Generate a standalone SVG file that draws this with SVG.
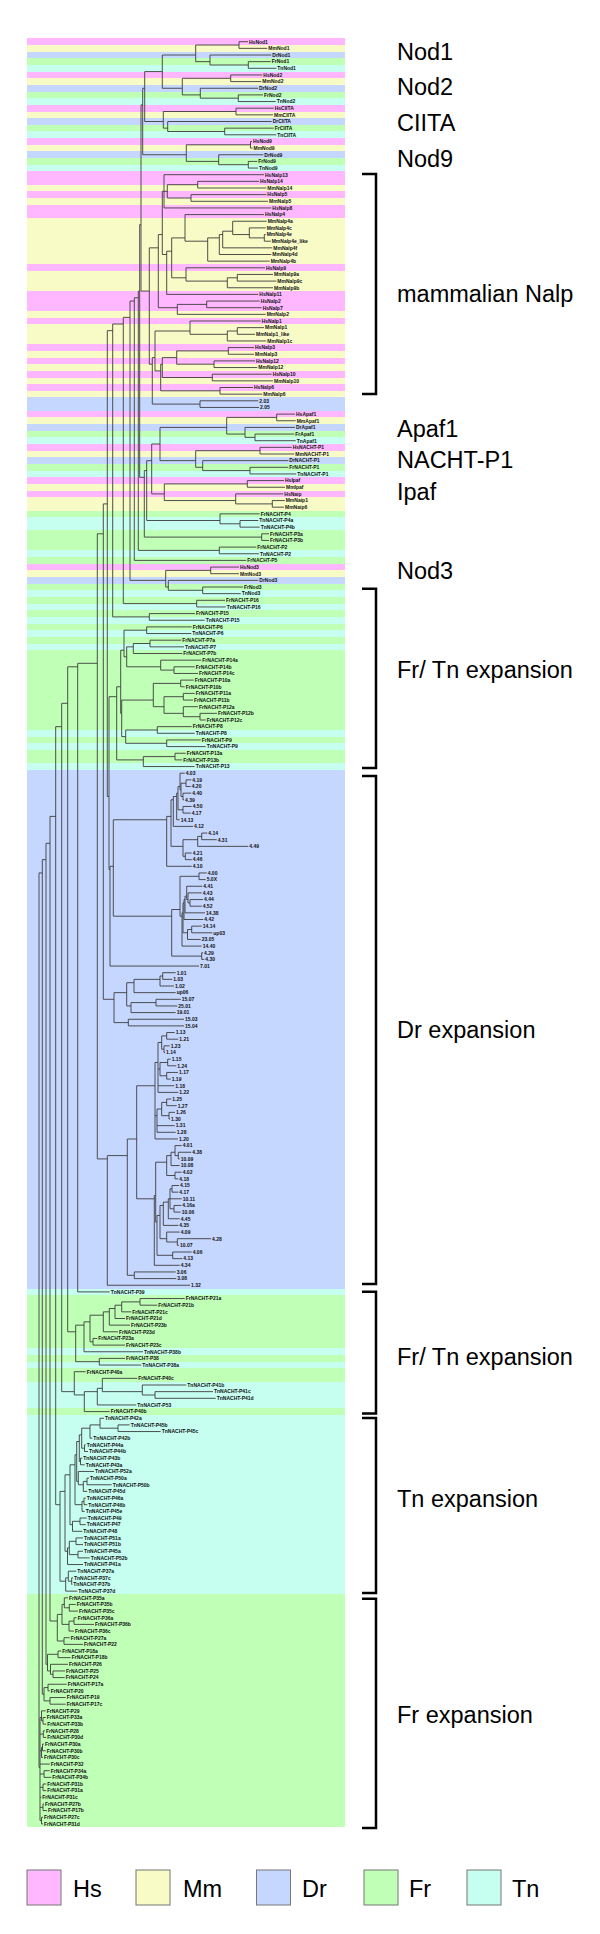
<svg xmlns="http://www.w3.org/2000/svg" width="600" height="1934" viewBox="0 0 600 1934">
<style>
.H{fill:#FFB8FF}.M{fill:#F8FBC6}.D{fill:#C6D7FF}.F{fill:#C0FFB6}.T{fill:#C6FFF0}
.t{fill:none;stroke:#3c3c3c;stroke-width:0.9}
.lab text{font-family:"Liberation Sans",Arial,sans-serif;font-weight:bold;font-size:5px;fill:#111}
.big{font-family:"Liberation Sans",Arial,sans-serif;font-size:23.5px;fill:#000}
.br{fill:none;stroke:#000;stroke-width:2.5}
.lg{stroke:#777;stroke-width:1}
</style>
<rect width="600" height="1934" fill="#fff"/>
<g id="bands" transform="translate(27 38.375) scale(1 6.65)" shape-rendering="crispEdges">
<rect class="H" x="0" y="0" width="318" height="1"/><rect class="M" x="0" y="1" width="318" height="1"/><rect class="D" x="0" y="2" width="318" height="1"/><rect class="F" x="0" y="3" width="318" height="1"/><rect class="T" x="0" y="4" width="318" height="1"/>
<rect class="H" x="0" y="5" width="318" height="1"/><rect class="M" x="0" y="6" width="318" height="1"/><rect class="D" x="0" y="7" width="318" height="1"/><rect class="F" x="0" y="8" width="318" height="1"/><rect class="T" x="0" y="9" width="318" height="1"/>
<rect class="H" x="0" y="10" width="318" height="1"/><rect class="M" x="0" y="11" width="318" height="1"/><rect class="D" x="0" y="12" width="318" height="1"/><rect class="F" x="0" y="13" width="318" height="1"/><rect class="T" x="0" y="14" width="318" height="1"/>
<rect class="H" x="0" y="15" width="318" height="1"/><rect class="M" x="0" y="16" width="318" height="1"/><rect class="D" x="0" y="17" width="318" height="1"/><rect class="F" x="0" y="18" width="318" height="1"/><rect class="T" x="0" y="19" width="318" height="1"/>
<rect class="H" x="0" y="20" width="318" height="2"/><rect class="M" x="0" y="22" width="318" height="1"/><rect class="H" x="0" y="23" width="318" height="1"/><rect class="M" x="0" y="24" width="318" height="1"/><rect class="H" x="0" y="25" width="318" height="2"/><rect class="M" x="0" y="27" width="318" height="7"/><rect class="H" x="0" y="34" width="318" height="1"/><rect class="M" x="0" y="35" width="318" height="3"/><rect class="H" x="0" y="38" width="318" height="3"/><rect class="M" x="0" y="41" width="318" height="1"/><rect class="H" x="0" y="42" width="318" height="1"/><rect class="M" x="0" y="43" width="318" height="3"/><rect class="H" x="0" y="46" width="318" height="1"/><rect class="M" x="0" y="47" width="318" height="1"/><rect class="H" x="0" y="48" width="318" height="1"/><rect class="M" x="0" y="49" width="318" height="1"/><rect class="H" x="0" y="50" width="318" height="1"/><rect class="M" x="0" y="51" width="318" height="1"/><rect class="H" x="0" y="52" width="318" height="1"/><rect class="M" x="0" y="53" width="318" height="1"/>
<rect class="D" x="0" y="54" width="318" height="2"/>
<rect class="H" x="0" y="56" width="318" height="1"/><rect class="M" x="0" y="57" width="318" height="1"/><rect class="D" x="0" y="58" width="318" height="1"/><rect class="F" x="0" y="59" width="318" height="1"/><rect class="T" x="0" y="60" width="318" height="1"/>
<rect class="H" x="0" y="61" width="318" height="1"/><rect class="M" x="0" y="62" width="318" height="1"/><rect class="D" x="0" y="63" width="318" height="1"/><rect class="F" x="0" y="64" width="318" height="1"/><rect class="T" x="0" y="65" width="318" height="1"/>
<rect class="H" x="0" y="66" width="318" height="1"/><rect class="M" x="0" y="67" width="318" height="1"/><rect class="H" x="0" y="68" width="318" height="1"/><rect class="M" x="0" y="69" width="318" height="2"/><rect class="F" x="0" y="71" width="318" height="1"/><rect class="T" x="0" y="72" width="318" height="2"/><rect class="F" x="0" y="74" width="318" height="3"/><rect class="T" x="0" y="77" width="318" height="1"/><rect class="F" x="0" y="78" width="318" height="1"/>
<rect class="H" x="0" y="79" width="318" height="1"/><rect class="M" x="0" y="80" width="318" height="1"/><rect class="D" x="0" y="81" width="318" height="1"/><rect class="F" x="0" y="82" width="318" height="1"/><rect class="T" x="0" y="83" width="318" height="1"/>
<rect class="F" x="0" y="84" width="318" height="1"/><rect class="T" x="0" y="85" width="318" height="1"/><rect class="F" x="0" y="86" width="318" height="1"/><rect class="T" x="0" y="87" width="318" height="1"/><rect class="F" x="0" y="88" width="318" height="1"/><rect class="T" x="0" y="89" width="318" height="1"/><rect class="F" x="0" y="90" width="318" height="1"/><rect class="T" x="0" y="91" width="318" height="1"/><rect class="F" x="0" y="92" width="318" height="12"/><rect class="T" x="0" y="104" width="318" height="1"/><rect class="F" x="0" y="105" width="318" height="1"/><rect class="T" x="0" y="106" width="318" height="1"/><rect class="F" x="0" y="107" width="318" height="2"/><rect class="T" x="0" y="109" width="318" height="1"/>
<rect class="D" x="0" y="110" width="318" height="78"/>
<rect class="T" x="0" y="188" width="318" height="1"/><rect class="F" x="0" y="189" width="318" height="8"/><rect class="T" x="0" y="197" width="318" height="1"/><rect class="F" x="0" y="198" width="318" height="1"/><rect class="T" x="0" y="199" width="318" height="1"/><rect class="F" x="0" y="200" width="318" height="2"/><rect class="T" x="0" y="202" width="318" height="4"/><rect class="F" x="0" y="206" width="318" height="1"/><rect class="T" x="0" y="207" width="318" height="27"/><rect class="F" x="0" y="234" width="318" height="35"/>
</g>
<g id="connectors" class="t">
<path d="M239,41.7V48.35M239,41.7H248M239,48.35H267.3M248.3,61.65V68.3M248.3,61.65H270.7M248.3,68.3H276.3M210,55V65M210,55H271.3M210,65H248.3M195.7,45V61.65M195.7,45H239M195.7,61.65H210M230.7,74.95V81.6M230.7,74.95H262.3M230.7,81.6H261.3M238.3,94.9V101.55M238.3,94.9H263M238.3,101.55H275.7M200.3,88.25V98.2M200.3,88.25H258M200.3,98.2H238.3M182.3,78.3V94.9M182.3,78.3H230.7M182.3,94.9H200.3M162.3,55V88.25M162.3,55H195.7M162.3,88.25H182.3M236,108.2V114.85M236,108.2H273.7M236,114.85H273M224.7,128.15V134.8M224.7,128.15H273.7M224.7,134.8H276.3M167.7,121.5V131.5M167.7,121.5H271.7M167.7,131.5H224.7M163.3,111.5V128.15M163.3,111.5H236M163.3,128.15H167.7M144.7,71.6V121.5M144.7,71.6H162.3M144.7,121.5H163.3M250.5,141.45V148.1M250.5,141.45H252M250.5,148.1H252.5M248.3,161.4V168.05M248.3,161.4H257.3M248.3,168.05H258M218.7,154.75V164.7M218.7,154.75H263.3M218.7,164.7H248.3M186.3,144.8V161.4M186.3,144.8H250.5M186.3,161.4H218.7M142.7,88.25V154.75M142.7,88.25H144.7M142.7,154.75H186.3"/>
<path d="M197.7,181.35V188M197.7,181.35H259M197.7,188H266.3M191,194.65V201.3M191,194.65H266.3M191,201.3H268M167.3,184.7V198M167.3,184.7H197.7M167.3,198H191M164,174.7V207.95M164,174.7H264M164,191.3H167.3M164,207.95H271.3M264.3,234.55V241.2M264.3,234.55H265.7M264.3,241.2H270.7M249.3,227.9V237.9M249.3,227.9H265.7M249.3,237.9H264.3M232.7,221.25V234.55M232.7,221.25H266.7M232.7,234.55H249.3M222.7,231.2V247.85M222.7,231.2H232.7M222.7,247.85H272.3M219.3,234.55V254.5M219.3,234.55H222.7M219.3,254.5H271.3M207.7,237.9V261.15M207.7,237.9H219.3M207.7,261.15H269.7M185,214.6V241.2M185,214.6H264M185,241.2H207.7M237.3,274.45V281.1M237.3,274.45H273M237.3,281.1H276.3M227.3,277.8V287.75M227.3,277.8H237.3M227.3,287.75H273M186,267.8V281.1M186,267.8H265M186,281.1H227.3M171.7,237.9V277.8M171.7,237.9H185M171.7,277.8H186M166.7,251.2V294.4M166.7,251.2H171.7M166.7,294.4H258.3M162.3,191.3V254.5M162.3,191.3H164M162.3,254.5H166.7M206.7,301.05V307.7M206.7,301.05H259.7M206.7,307.7H261.7M177.3,304.4V314.35M177.3,304.4H206.7M177.3,314.35H265.7M158.3,234.55V307.7M158.3,234.55H162.3M158.3,307.7H177.3M237.3,327.65V334.3M237.3,327.65H264M237.3,334.3H255M227.3,331V340.95M227.3,331H237.3M227.3,340.95H266.3M190,321V334.3M190,321H260.7M190,334.3H227.3M228.3,347.6V354.25M228.3,347.6H254M228.3,354.25H254M214,360.9V367.55M214,360.9H255M214,367.55H257.3M176.7,350.9V364.2M176.7,350.9H228.3M176.7,364.2H214M212.3,374.2V380.85M212.3,374.2H271.7M212.3,380.85H273M162.3,357.6V377.5M162.3,357.6H176.7M162.3,377.5H212.3M220,387.5V394.15M220,387.5H253M220,394.15H262.3M160.7,364.2V390.8M160.7,364.2H162.3M160.7,390.8H220M155,331V370.9M155,331H190M155,370.9H160.7M200,400.8V407.45M200,400.8H258.3M200,407.45H259M152.3,357.6V404.1M152.3,357.6H155M152.3,404.1H200M149.3,247.85V364.2M149.3,247.85H158.3M149.3,364.2H152.3"/>
<path d="M276.7,414.1V420.75M276.7,414.1H295M276.7,420.75H295.7M255,434.05V440.7M255,434.05H294.3M255,440.7H295.7M245,427.4V437.4M245,427.4H295M245,437.4H255M226.7,417.4V434.05M226.7,417.4H276.7M226.7,434.05H245M260,447.35V454M260,447.35H291.7M260,454H294.3M250,467.3V473.95M250,467.3H288.3M250,473.95H296.3M202.7,460.65V470.6M202.7,460.65H288.3M202.7,470.6H250M195.7,450.7V467.3M195.7,450.7H260M195.7,467.3H202.7M160,427.4V460.65M160,427.4H226.7M160,460.65H195.7M247.3,480.6V487.25M247.3,480.6H284M247.3,487.25H285M272.3,500.55V507.2M272.3,500.55H284.7M272.3,507.2H284M235.7,493.9V503.9M235.7,493.9H283.3M235.7,503.9H272.3M164.3,483.9V500.55M164.3,483.9H247.3M164.3,500.55H235.7M151.7,444V493.9M151.7,444H160M151.7,493.9H164.3M240,520.5V527.15M240,520.5H258.3M240,527.15H259.7M220,513.85V523.8M220,513.85H259.7M220,523.8H240M146.7,460.65V520.5M146.7,460.65H151.7M146.7,520.5H220M261.7,533.8V540.45M261.7,533.8H269M261.7,540.45H269M144.3,470.6V537.1M144.3,470.6H146.7M144.3,537.1H261.7M219.3,547.1V553.75M219.3,547.1H256.3M219.3,553.75H259"/>
<path d="M210.7,567.05V573.7M210.7,567.05H239M210.7,573.7H239M202.7,587V593.65M202.7,587H243M202.7,593.65H240.7M168.3,580.35V590.3M168.3,580.35H258.3M168.3,590.3H202.7M165.7,570.4V587M165.7,570.4H210.7M165.7,587H168.3"/>
<path d="M141,104.9V291.1M141,104.9H142.7M141,291.1H149.3M139.7,224.6V477.3M139.7,224.6H141M139.7,477.3H144.3M138.3,291.1V550.4M138.3,291.1H139.7M138.3,550.4H219.3M134.3,297.75V560.4M134.3,297.75H138.3M134.3,560.4H246.3M130,301.05V580.35M130,301.05H134.3M130,580.35H165.7M123.3,317.35V603.6M123.3,317.35H130M123.3,603.6H196.7M112.7,324V616.9M112.7,324H123.3M112.7,616.9H149.3"/>
<path d="M196.7,600.3V606.95M196.7,600.3H225M196.7,606.95H225.7M149.3,613.6V620.25M149.3,613.6H195M149.3,620.25H204.7M146.7,626.9V633.55M146.7,626.9H191.7M146.7,633.55H191.3M150,640.2V646.85M150,640.2H181.3M150,646.85H184M133.3,643.5V653.5M133.3,643.5H150M133.3,653.5H182.3M174,666.8V673.45M174,666.8H194.7M174,673.45H198M160.7,660.15V670.1M160.7,660.15H201.3M160.7,670.1H174M126.7,646.85V666.8M126.7,646.85H133.3M126.7,666.8H160.7M124,630.2V656.8M124,630.2H146.7M124,656.8H126.7M180.7,680.1V686.75M180.7,680.1H193.7M180.7,686.75H184.7M183.3,693.4V700.05M183.3,693.4H194.7M183.3,700.05H193M200,713.35V720M200,713.35H217M200,720H205.7M183.3,706.7V716.7M183.3,706.7H198M183.3,716.7H200M164,696.7V713.35M164,696.7H183.3M164,713.35H183.3M153.3,683.4V706.7M153.3,683.4H180.7M153.3,706.7H164M157.3,726.65V733.3M157.3,726.65H191.7M157.3,733.3H194.7M166.7,739.95V746.6M166.7,739.95H200.7M166.7,746.6H205.7M125.7,730V743.3M125.7,730H157.3M125.7,743.3H166.7M121.7,700.05V736.6M121.7,700.05H153.3M121.7,736.6H125.7M120.7,650.2V713.35M120.7,650.2H124M120.7,713.35H121.7M175,753.25V759.9M175,753.25H185.7M175,759.9H182.3M143.3,756.6V766.55M143.3,756.6H175M143.3,766.55H194.7M116.7,686.75V759.9M116.7,686.75H120.7M116.7,759.9H143.3"/>
<path d="M186,779.85V786.5M186,779.85H191.3M186,786.5H190.7M183,793.15V799.8M183,793.15H191.3M183,799.8H184M181,783.2V796.5M181,783.2H186M181,796.5H183M180,773.2V789.8M180,773.2H184.7M180,789.8H181M183,806.45V813.1M183,806.45H191.7M183,813.1H190.7M178,786.5V809.8M178,786.5H180M178,809.8H183M176.7,793.15V819.75M176.7,793.15H178M176.7,819.75H179.7M173.3,796.5V826.4M173.3,796.5H176.7M173.3,826.4H193M201.7,833.05V839.7M201.7,833.05H207.3M201.7,839.7H216.7M197.7,836.4V846.35M197.7,836.4H201.7M197.7,846.35H248.3M185.3,853V859.65M185.3,853H191.7M185.3,859.65H191.7M183,839.7V856.3M183,839.7H197.7M183,856.3H185.3M171,799.8V846.35M171,799.8H173.3M171,846.35H183M166.7,816.4V866.3M166.7,816.4H171M166.7,866.3H191.7M199,872.95V879.6M199,872.95H206.7M199,879.6H205.7M190,899.55V906.2M190,899.55H203M190,906.2H201.7M188,892.9V902.9M188,892.9H201.7M188,902.9H190M186.7,886.25V899.55M186.7,886.25H202.3M186.7,899.55H188M185,896.2V912.85M185,896.2H186.7M185,912.85H205M184,899.55V919.5M184,899.55H185M184,919.5H203.3M191.7,926.15V932.8M191.7,926.15H201.7M191.7,932.8H212.3M187.5,929.5V939.45M187.5,929.5H191.7M187.5,939.45H200.7M183,902.9V932.8M183,902.9H184M183,932.8H187.5M182,912.85V946.1M182,912.85H183M182,946.1H201.7M180,876.3V916.2M180,876.3H199M180,916.2H182M201.7,952.75V959.4M201.7,952.75H203M201.7,959.4H204.3M171.7,909.5V956.1M171.7,909.5H180M171.7,956.1H201.7M113.3,819.75V916.2M113.3,819.75H166.7M113.3,916.2H171.7M110,866.3V966.05M110,866.3H113.3M110,966.05H199M162.7,972.7V979.35M162.7,972.7H175.7M162.7,979.35H172.3M160,976V986M160,976H162.7M160,986H174M134,979.35V992.65M134,979.35H160M134,992.65H175.7M156,999.3V1005.95M156,999.3H180.7M156,1005.95H177.3M131,1002.6V1012.6M131,1002.6H156M131,1012.6H175.7M126.7,982.7V1005.95M126.7,982.7H134M126.7,1005.95H131M128.3,1019.25V1025.9M128.3,1019.25H184M128.3,1025.9H184M114,992.65V1022.6M114,992.65H126.7M114,1022.6H128.3"/>
<path d="M166.7,1032.55V1039.2M166.7,1032.55H174.7M166.7,1039.2H178.3M164,1045.85V1052.5M164,1045.85H169.7M164,1052.5H165M161.7,1035.9V1049.2M161.7,1035.9H166.7M161.7,1049.2H164M167.7,1059.15V1065.8M167.7,1059.15H170.7M167.7,1065.8H176.3M166.7,1072.45V1079.1M166.7,1072.45H178M166.7,1079.1H170.7M160,1062.5V1075.8M160,1062.5H167.7M160,1075.8H166.7M158,1042.5V1092.4M158,1042.5H161.7M158,1069.1H160M158,1085.75H174.3M158,1092.4H178.3M166.7,1099.05V1105.7M166.7,1099.05H171.3M166.7,1105.7H176.7M169,1112.35V1119M169,1112.35H175M169,1119H170M161.7,1102.4V1115.7M161.7,1102.4H166.7M161.7,1115.7H169M157,1109V1132.3M157,1109H161.7M157,1125.65H174.7M157,1132.3H175.7M155,1062.45V1138.95M155,1062.45H158M155,1115.7H157M155,1138.95H178M178.3,1152.25V1158.9M178.3,1152.25H191.3M178.3,1158.9H179.7M175,1145.6V1155.6M175,1145.6H181.7M175,1155.6H178.3M171,1152.25V1165.55M171,1152.25H175M171,1165.55H179.7M175,1172.2V1178.85M175,1172.2H181.7M175,1178.85H178.3M166.7,1155.6V1175.5M166.7,1155.6H171M166.7,1175.5H175M172,1185.5V1192.15M172,1185.5H179M172,1192.15H178.3M174,1205.45V1212.1M174,1205.45H181.3M174,1212.1H180.7M170,1188.8V1208.8M170,1188.8H172M170,1198.8H181.7M170,1208.8H174M168.3,1198.8V1218.75M168.3,1198.8H170M168.3,1218.75H179.7M163.3,1202.1V1225.4M163.3,1202.1H168.3M163.3,1225.4H178.3M177.3,1238.7V1245.35M177.3,1238.7H211M177.3,1245.35H179M166.7,1232.05V1242M166.7,1232.05H179.7M166.7,1242H177.3M172.7,1252V1258.65M172.7,1252H191.7M172.7,1258.65H182.3M160,1205.45V1238.7M160,1205.45H163.3M160,1238.7H166.7M157,1215.4V1255.3M157,1215.4H160M157,1255.3H172.7M155.7,1162.2V1222.1M155.7,1162.2H166.7M155.7,1222.1H157M154.3,1195.5V1265.3M154.3,1195.5H155.7M154.3,1265.3H179.7M136.7,1085.75V1198.8M136.7,1085.75H155M136.7,1198.8H154.3M134.3,1271.95V1278.6M134.3,1271.95H175.7M134.3,1278.6H176.3M127.3,1139V1275.3M127.3,1139H136.7M127.3,1275.3H134.3M107.3,1155.6V1285.25M107.3,1155.6H127.3M107.3,1285.25H190"/>
<path d="M109,696.7V869.6M109,696.7H116.7M109,869.6H110M107.3,330.65V796.5M107.3,330.65H112.7M107.3,796.5H109M103.3,503.9V999.3M103.3,503.9H107.3M103.3,999.3H114M97.3,533.8V1158.9M97.3,533.8H103.3M97.3,1158.9H107.3M77.7,663.3V1291.9M77.7,663.3H97.3M77.7,1291.9H109.7M67.7,666.8V1331.8M67.7,666.8H77.7M67.7,1331.8H75.7M61.7,703.3V1391.65M61.7,703.3H67.7M61.7,1391.65H74.3M55.7,726.65V1504.7M55.7,726.65H61.7M55.7,1504.7H60M50,816.4V1621M50,816.4H55.7M50,1621H57.3M46,843.3V1664.3M46,843.3H50M46,1664.3H47.5M42.3,859.65V1694.2M42.3,859.65H46M42.3,1694.2H44M39,872.95V1767.4M39,872.95H42.3M39,1767.4H40"/>
<path d="M140,1298.55V1305.2M140,1298.55H184.7M140,1305.2H157.3M121.7,1301.9V1311.85M121.7,1301.9H140M121.7,1311.85H131.3M115,1305.2V1318.5M115,1305.2H121.7M115,1318.5H125M109.3,1308.5V1325.15M109.3,1308.5H115M109.3,1325.15H130M103.3,1311.85V1331.8M103.3,1311.85H109.3M103.3,1331.8H118M93,1338.45V1345.1M93,1338.45H97.3M93,1345.1H125M90,1315.2V1341.8M90,1315.2H103.3M90,1341.8H93M84,1321.85V1351.75M84,1321.85H90M84,1351.75H143M99.3,1358.4V1365.05M99.3,1358.4H125M99.3,1365.05H141.3M75.7,1325.15V1361.7M75.7,1325.15H84M75.7,1361.7H99.3"/>
<path d="M155,1391.65V1398.3M155,1391.65H213M155,1398.3H215.7M142.3,1385V1395M142.3,1385H186.3M142.3,1395H155M102.3,1378.35V1391.65M102.3,1378.35H137.3M102.3,1391.65H142.3M97.3,1388.3V1404.95M97.3,1388.3H102.3M97.3,1404.95H136.3M84.3,1391.65V1411.6M84.3,1391.65H97.3M84.3,1411.6H109.7M74.3,1371.7V1394.95M74.3,1371.7H85.7M74.3,1394.95H84.3"/>
<path d="M118,1424.9V1431.55M118,1424.9H129.7M118,1431.55H160.7M100,1418.25V1428.2M100,1418.25H104M100,1428.2H118M90,1424.9V1438.2M90,1424.9H100M90,1438.2H92.3M84.5,1444.85V1451.5M84.5,1444.85H85.7M84.5,1451.5H88M81.7,1428.2V1448.2M81.7,1428.2H90M81.7,1448.2H84.5M80.5,1458.15V1464.8M80.5,1458.15H82.3M80.5,1464.8H84.7M79.3,1434.9V1461.5M79.3,1434.9H81.7M79.3,1461.5H80.5M87,1478.1V1484.75M87,1478.1H89M87,1484.75H111.7M83.3,1481.4V1491.4M83.3,1481.4H87M83.3,1491.4H87.3M78.3,1471.45V1484.75M78.3,1471.45H94M78.3,1484.75H83.3M76.7,1441.5V1481.4M76.7,1441.5H79.3M76.7,1481.4H78.3M84,1498.05V1504.7M84,1498.05H85.7M84,1504.7H87.3M82,1501.4V1511.35M82,1501.4H84M82,1511.35H84.7M75,1454.8V1504.7M75,1454.8H76.7M75,1504.7H82M80,1518V1524.65M80,1518H86.7M80,1524.65H85.7M72.5,1521.3V1531.3M72.5,1521.3H80M72.5,1531.3H82.3M70,1464.8V1524.65M70,1464.8H75M70,1524.65H72.5M76,1537.95V1544.6M76,1537.95H83M76,1544.6H83M78,1551.25V1557.9M78,1551.25H83M78,1557.9H89.7M69.3,1541.3V1554.6M69.3,1541.3H76M69.3,1554.6H78M67.5,1547.9V1564.55M67.5,1547.9H69.3M67.5,1564.55H83M65,1474.8V1551.25M65,1474.8H70M65,1551.25H67.5M71.7,1577.85V1584.5M71.7,1577.85H73M71.7,1584.5H72.3M68.3,1571.2V1581.2M68.3,1571.2H76.3M68.3,1581.2H71.7M65.7,1577.85V1591.15M65.7,1577.85H68.3M65.7,1591.15H77.3M60,1491.4V1581.2M60,1491.4H65M60,1581.2H65.7"/>
<path d="M69.3,1604.45V1611.1M69.3,1604.45H75.7M69.3,1611.1H78M64.3,1597.8V1607.8M64.3,1597.8H68M64.3,1607.8H69.3M74,1617.75V1624.4M74,1617.75H76.7M74,1624.4H94M69,1621.1V1631.05M69,1621.1H74M69,1631.05H74M62,1604.45V1624.4M62,1604.45H64.3M62,1624.4H69M64,1637.7V1644.35M64,1637.7H69.7M64,1644.35H83M57.3,1614.4V1641M57.3,1614.4H62M57.3,1641H64M58,1651V1657.65M58,1651H61.3M58,1657.65H70.7M53,1670.95V1677.6M53,1670.95H65M53,1677.6H64.7M50.5,1664.3V1674.3M50.5,1664.3H68M50.5,1674.3H53M47.5,1654.3V1670.95M47.5,1654.3H58M47.5,1670.95H50.5M48,1684.25V1690.9M48,1684.25H66.7M48,1690.9H49.7M50,1697.55V1704.2M50,1697.55H65.7M50,1704.2H65.7M44,1687.6V1700.9M44,1687.6H48M44,1700.9H50"/>
<path d="M43,1717.5V1724.15M43,1717.5H45.7M43,1724.15H46.3M41.5,1710.85V1720.8M41.5,1710.85H45.7M41.5,1720.8H43M43.3,1730.8V1737.45M43.3,1730.8H45M43.3,1737.45H46.3M42.5,1744.1V1750.75M42.5,1744.1H44M42.5,1750.75H45.7M41.5,1747.4V1757.4M41.5,1747.4H42.5M41.5,1757.4H43M44,1770.7V1777.35M44,1770.7H49.7M44,1777.35H51.3M43,1784V1790.65M43,1784H46.3M43,1790.65H46.3M43,1803.95V1810.6M43,1803.95H44M43,1810.6H47M41.5,1817.25V1823.9M41.5,1817.25H43M41.5,1823.9H43M40,1717.5V1820.6M40,1717.5H41.5M40,1734.1H43.3M40,1750.75H41.5M40,1764.05H49.7M40,1774H44M40,1787.3H43M40,1797.3H41.3M40,1807.3H43M40,1820.6H41.5"/>
</g>
<g id="leaves" class="lab">
<g id="L0"><text x="249" y="43.5">HsNod1</text></g>
<g id="L1"><text x="268.3" y="50.15">MmNod1</text></g>
<g id="L2"><text x="272.3" y="56.8">DrNod1</text></g>
<g id="L3"><text x="271.7" y="63.45">FrNod1</text></g>
<g id="L4"><text x="277.3" y="70.1">TnNod1</text></g>
<g id="L5"><text x="263.3" y="76.75">HsNod2</text></g>
<g id="L6"><text x="262.3" y="83.4">MmNod2</text></g>
<g id="L7"><text x="259" y="90.05">DrNod2</text></g>
<g id="L8"><text x="264" y="96.7">FrNod2</text></g>
<g id="L9"><text x="276.7" y="103.35">TnNod2</text></g>
<g id="L10"><text x="274.7" y="110">HsCIITA</text></g>
<g id="L11"><text x="274" y="116.65">MmCIITA</text></g>
<g id="L12"><text x="272.7" y="123.3">DrCIITA</text></g>
<g id="L13"><text x="274.7" y="129.95">FrCIITA</text></g>
<g id="L14"><text x="277.3" y="136.6">TnCIITA</text></g>
<g id="L15"><text x="253" y="143.25">HsNod9</text></g>
<g id="L16"><text x="253.5" y="149.9">MmNod9</text></g>
<g id="L17"><text x="264.3" y="156.55">DrNod9</text></g>
<g id="L18"><text x="258.3" y="163.2">FrNod9</text></g>
<g id="L19"><text x="259" y="169.85">TnNod9</text></g>
<g id="L20"><text x="265" y="176.5">HsNalp13</text></g>
<g id="L21"><text x="260" y="183.15">HsNalp14</text></g>
<g id="L22"><text x="267.3" y="189.8">MmNalp14</text></g>
<g id="L23"><text x="267.3" y="196.45">HsNalp5</text></g>
<g id="L24"><text x="269" y="203.1">MmNalp5</text></g>
<g id="L25"><text x="272.3" y="209.75">HsNalp8</text></g>
<g id="L26"><text x="265" y="216.4">HsNalp4</text></g>
<g id="L27"><text x="267.7" y="223.05">MmNalp4a</text></g>
<g id="L28"><text x="266.7" y="229.7">MmNalp4c</text></g>
<g id="L29"><text x="266.7" y="236.35">MmNalp4e</text></g>
<g id="L30"><text x="271.7" y="243">MmNalp4e_like</text></g>
<g id="L31"><text x="273.3" y="249.65">MmNalp4f</text></g>
<g id="L32"><text x="272.3" y="256.3">MmNalp4d</text></g>
<g id="L33"><text x="270.7" y="262.95">MmNalp4b</text></g>
<g id="L34"><text x="266" y="269.6">HsNalp9</text></g>
<g id="L35"><text x="274" y="276.25">MmNalp9a</text></g>
<g id="L36"><text x="277.3" y="282.9">MmNalp9c</text></g>
<g id="L37"><text x="274" y="289.55">MmNalp9b</text></g>
<g id="L38"><text x="259.3" y="296.2">HsNalp11</text></g>
<g id="L39"><text x="260.7" y="302.85">HsNalp2</text></g>
<g id="L40"><text x="262.7" y="309.5">HsNalp7</text></g>
<g id="L41"><text x="266.7" y="316.15">MmNalp2</text></g>
<g id="L42"><text x="261.7" y="322.8">HsNalp1</text></g>
<g id="L43"><text x="265" y="329.45">MmNalp1</text></g>
<g id="L44"><text x="256" y="336.1">MmNalp1_like</text></g>
<g id="L45"><text x="267.3" y="342.75">MmNalp1c</text></g>
<g id="L46"><text x="255" y="349.4">HsNalp3</text></g>
<g id="L47"><text x="255" y="356.05">MmNalp3</text></g>
<g id="L48"><text x="256" y="362.7">HsNalp12</text></g>
<g id="L49"><text x="258.3" y="369.35">MmNalp12</text></g>
<g id="L50"><text x="272.7" y="376">HsNalp10</text></g>
<g id="L51"><text x="274" y="382.65">MmNalp10</text></g>
<g id="L52"><text x="254" y="389.3">HsNalp6</text></g>
<g id="L53"><text x="263.3" y="395.95">MmNalp6</text></g>
<g id="L54"><text x="259.3" y="402.6">2.03</text></g>
<g id="L55"><text x="260" y="409.25">2.05</text></g>
<g id="L56"><text x="296" y="415.9">HsApaf1</text></g>
<g id="L57"><text x="296.7" y="422.55">MmApaf1</text></g>
<g id="L58"><text x="296" y="429.2">DrApaf1</text></g>
<g id="L59"><text x="295.3" y="435.85">FrApaf1</text></g>
<g id="L60"><text x="296.7" y="442.5">TnApaf1</text></g>
<g id="L61"><text x="292.7" y="449.15">HsNACHT-P1</text></g>
<g id="L62"><text x="295.3" y="455.8">MmNACHT-P1</text></g>
<g id="L63"><text x="289.3" y="462.45">DrNACHT-P1</text></g>
<g id="L64"><text x="289.3" y="469.1">FrNACHT-P1</text></g>
<g id="L65"><text x="297.3" y="475.75">TnNACHT-P1</text></g>
<g id="L66"><text x="285" y="482.4">HsIpaf</text></g>
<g id="L67"><text x="286" y="489.05">MmIpaf</text></g>
<g id="L68"><text x="284.3" y="495.7">HsNaip</text></g>
<g id="L69"><text x="285.7" y="502.35">MmNaip1</text></g>
<g id="L70"><text x="285" y="509">MmNaip6</text></g>
<g id="L71"><text x="260.7" y="515.65">FrNACHT-P4</text></g>
<g id="L72"><text x="259.3" y="522.3">TnNACHT-P4a</text></g>
<g id="L73"><text x="260.7" y="528.95">TnNACHT-P4b</text></g>
<g id="L74"><text x="270" y="535.6">FrNACHT-P3a</text></g>
<g id="L75"><text x="270" y="542.25">FrNACHT-P3b</text></g>
<g id="L76"><text x="257.3" y="548.9">FrNACHT-P2</text></g>
<g id="L77"><text x="260" y="555.55">TnNACHT-P2</text></g>
<g id="L78"><text x="247.3" y="562.2">FrNACHT-P5</text></g>
<g id="L79"><text x="240" y="568.85">HsNod3</text></g>
<g id="L80"><text x="240" y="575.5">MmNod3</text></g>
<g id="L81"><text x="259.3" y="582.15">DrNod3</text></g>
<g id="L82"><text x="244" y="588.8">FrNod3</text></g>
<g id="L83"><text x="241.7" y="595.45">TnNod3</text></g>
<g id="L84"><text x="226" y="602.1">FrNACHT-P16</text></g>
<g id="L85"><text x="226.7" y="608.75">TnNACHT-P16</text></g>
<g id="L86"><text x="196" y="615.4">FrNACHT-P15</text></g>
<g id="L87"><text x="205.7" y="622.05">TnNACHT-P15</text></g>
<g id="L88"><text x="192.7" y="628.7">FrNACHT-P6</text></g>
<g id="L89"><text x="192.3" y="635.35">TnNACHT-P6</text></g>
<g id="L90"><text x="182.3" y="642">FrNACHT-P7a</text></g>
<g id="L91"><text x="185" y="648.65">TnNACHT-P7</text></g>
<g id="L92"><text x="183.3" y="655.3">FrNACHT-P7b</text></g>
<g id="L93"><text x="202.3" y="661.95">FrNACHT-P14a</text></g>
<g id="L94"><text x="195.7" y="668.6">FrNACHT-P14b</text></g>
<g id="L95"><text x="199" y="675.25">FrNACHT-P14c</text></g>
<g id="L96"><text x="194.7" y="681.9">FrNACHT-P10a</text></g>
<g id="L97"><text x="185.7" y="688.55">FrNACHT-P10b</text></g>
<g id="L98"><text x="195.7" y="695.2">FrNACHT-P11a</text></g>
<g id="L99"><text x="194" y="701.85">FrNACHT-P11b</text></g>
<g id="L100"><text x="199" y="708.5">FrNACHT-P12a</text></g>
<g id="L101"><text x="218" y="715.15">FrNACHT-P12b</text></g>
<g id="L102"><text x="206.7" y="721.8">FrNACHT-P12c</text></g>
<g id="L103"><text x="192.7" y="728.45">FrNACHT-P8</text></g>
<g id="L104"><text x="195.7" y="735.1">TnNACHT-P8</text></g>
<g id="L105"><text x="201.7" y="741.75">FrNACHT-P9</text></g>
<g id="L106"><text x="206.7" y="748.4">TnNACHT-P9</text></g>
<g id="L107"><text x="186.7" y="755.05">FrNACHT-P13a</text></g>
<g id="L108"><text x="183.3" y="761.7">FrNACHT-P13b</text></g>
<g id="L109"><text x="195.7" y="768.35">TnNACHT-P13</text></g>
<g id="L110"><text x="185.7" y="775">4.03</text></g>
<g id="L111"><text x="192.3" y="781.65">4.19</text></g>
<g id="L112"><text x="191.7" y="788.3">4.20</text></g>
<g id="L113"><text x="192.3" y="794.95">4.40</text></g>
<g id="L114"><text x="185" y="801.6">4.39</text></g>
<g id="L115"><text x="192.7" y="808.25">4.50</text></g>
<g id="L116"><text x="191.7" y="814.9">4.17</text></g>
<g id="L117"><text x="180.7" y="821.55">14.13</text></g>
<g id="L118"><text x="194" y="828.2">4.12</text></g>
<g id="L119"><text x="208.3" y="834.85">4.14</text></g>
<g id="L120"><text x="217.7" y="841.5">4.31</text></g>
<g id="L121"><text x="249.3" y="848.15">4.49</text></g>
<g id="L122"><text x="192.7" y="854.8">4.21</text></g>
<g id="L123"><text x="192.7" y="861.45">4.46</text></g>
<g id="L124"><text x="192.7" y="868.1">4.10</text></g>
<g id="L125"><text x="207.7" y="874.75">4.00</text></g>
<g id="L126"><text x="206.7" y="881.4">5.0X</text></g>
<g id="L127"><text x="203.3" y="888.05">4.41</text></g>
<g id="L128"><text x="202.7" y="894.7">4.43</text></g>
<g id="L129"><text x="204" y="901.35">4.44</text></g>
<g id="L130"><text x="202.7" y="908">4.52</text></g>
<g id="L131"><text x="206" y="914.65">14.38</text></g>
<g id="L132"><text x="204.3" y="921.3">4.42</text></g>
<g id="L133"><text x="202.7" y="927.95">14.14</text></g>
<g id="L134"><text x="213.3" y="934.6">up03</text></g>
<g id="L135"><text x="201.7" y="941.25">23.05</text></g>
<g id="L136"><text x="202.7" y="947.9">14.40</text></g>
<g id="L137"><text x="204" y="954.55">4.29</text></g>
<g id="L138"><text x="205.3" y="961.2">4.30</text></g>
<g id="L139"><text x="200" y="967.85">7.01</text></g>
<g id="L140"><text x="176.7" y="974.5">1.01</text></g>
<g id="L141"><text x="173.3" y="981.15">1.03</text></g>
<g id="L142"><text x="175" y="987.8">1.02</text></g>
<g id="L143"><text x="176.7" y="994.45">up06</text></g>
<g id="L144"><text x="181.7" y="1001.1">15.07</text></g>
<g id="L145"><text x="178.3" y="1007.75">25.01</text></g>
<g id="L146"><text x="176.7" y="1014.4">19.01</text></g>
<g id="L147"><text x="185" y="1021.05">15.03</text></g>
<g id="L148"><text x="185" y="1027.7">15.04</text></g>
<g id="L149"><text x="175.7" y="1034.35">1.13</text></g>
<g id="L150"><text x="179.3" y="1041">1.21</text></g>
<g id="L151"><text x="170.7" y="1047.65">1.23</text></g>
<g id="L152"><text x="166" y="1054.3">1.14</text></g>
<g id="L153"><text x="171.7" y="1060.95">1.15</text></g>
<g id="L154"><text x="177.3" y="1067.6">1.24</text></g>
<g id="L155"><text x="179" y="1074.25">1.17</text></g>
<g id="L156"><text x="171.7" y="1080.9">1.19</text></g>
<g id="L157"><text x="175.3" y="1087.55">1.18</text></g>
<g id="L158"><text x="179.3" y="1094.2">1.22</text></g>
<g id="L159"><text x="172.3" y="1100.85">1.25</text></g>
<g id="L160"><text x="177.7" y="1107.5">1.27</text></g>
<g id="L161"><text x="176" y="1114.15">1.26</text></g>
<g id="L162"><text x="171" y="1120.8">1.30</text></g>
<g id="L163"><text x="175.7" y="1127.45">1.31</text></g>
<g id="L164"><text x="176.7" y="1134.1">1.28</text></g>
<g id="L165"><text x="179" y="1140.75">1.20</text></g>
<g id="L166"><text x="182.7" y="1147.4">4.01</text></g>
<g id="L167"><text x="192.3" y="1154.05">4.38</text></g>
<g id="L168"><text x="180.7" y="1160.7">10.09</text></g>
<g id="L169"><text x="180.7" y="1167.35">10.08</text></g>
<g id="L170"><text x="182.7" y="1174">4.02</text></g>
<g id="L171"><text x="179.3" y="1180.65">4.18</text></g>
<g id="L172"><text x="180" y="1187.3">4.15</text></g>
<g id="L173"><text x="179.3" y="1193.95">4.17</text></g>
<g id="L174"><text x="182.7" y="1200.6">10.11</text></g>
<g id="L175"><text x="182.3" y="1207.25">4.16a</text></g>
<g id="L176"><text x="181.7" y="1213.9">10.06</text></g>
<g id="L177"><text x="180.7" y="1220.55">4.45</text></g>
<g id="L178"><text x="179.3" y="1227.2">4.35</text></g>
<g id="L179"><text x="180.7" y="1233.85">4.09</text></g>
<g id="L180"><text x="212" y="1240.5">4.28</text></g>
<g id="L181"><text x="180" y="1247.15">10.07</text></g>
<g id="L182"><text x="192.7" y="1253.8">4.06</text></g>
<g id="L183"><text x="183.3" y="1260.45">4.13</text></g>
<g id="L184"><text x="180.7" y="1267.1">4.34</text></g>
<g id="L185"><text x="176.7" y="1273.75">3.06</text></g>
<g id="L186"><text x="177.3" y="1280.4">3.08</text></g>
<g id="L187"><text x="191" y="1287.05">1.32</text></g>
<g id="L188"><text x="110.7" y="1293.7">TnNACHT-P39</text></g>
<g id="L189"><text x="185.7" y="1300.35">FrNACHT-P21a</text></g>
<g id="L190"><text x="158.3" y="1307">FrNACHT-P21b</text></g>
<g id="L191"><text x="132.3" y="1313.65">FrNACHT-P21c</text></g>
<g id="L192"><text x="126" y="1320.3">FrNACHT-P21d</text></g>
<g id="L193"><text x="131" y="1326.95">FrNACHT-P23b</text></g>
<g id="L194"><text x="119" y="1333.6">FrNACHT-P23d</text></g>
<g id="L195"><text x="98.3" y="1340.25">FrNACHT-P23a</text></g>
<g id="L196"><text x="126" y="1346.9">FrNACHT-P23c</text></g>
<g id="L197"><text x="144" y="1353.55">TnNACHT-P38b</text></g>
<g id="L198"><text x="126" y="1360.2">FrNACHT-P38</text></g>
<g id="L199"><text x="142.3" y="1366.85">TnNACHT-P38a</text></g>
<g id="L200"><text x="86.7" y="1373.5">FrNACHT-P40a</text></g>
<g id="L201"><text x="138.3" y="1380.15">FrNACHT-P40c</text></g>
<g id="L202"><text x="187.3" y="1386.8">TnNACHT-P41b</text></g>
<g id="L203"><text x="214" y="1393.45">TnNACHT-P41c</text></g>
<g id="L204"><text x="216.7" y="1400.1">TnNACHT-P41d</text></g>
<g id="L205"><text x="137.3" y="1406.75">TnNACHT-P53</text></g>
<g id="L206"><text x="110.7" y="1413.4">FrNACHT-P40b</text></g>
<g id="L207"><text x="105" y="1420.05">TnNACHT-P42a</text></g>
<g id="L208"><text x="130.7" y="1426.7">TnNACHT-P45b</text></g>
<g id="L209"><text x="161.7" y="1433.35">TnNACHT-P45c</text></g>
<g id="L210"><text x="93.3" y="1440">TnNACHT-P42b</text></g>
<g id="L211"><text x="86.7" y="1446.65">TnNACHT-P44a</text></g>
<g id="L212"><text x="89" y="1453.3">TnNACHT-P44b</text></g>
<g id="L213"><text x="83.3" y="1459.95">TnNACHT-P43b</text></g>
<g id="L214"><text x="85.7" y="1466.6">TnNACHT-P43a</text></g>
<g id="L215"><text x="95" y="1473.25">TnNACHT-P52a</text></g>
<g id="L216"><text x="90" y="1479.9">TnNACHT-P50a</text></g>
<g id="L217"><text x="112.7" y="1486.55">TnNACHT-P50b</text></g>
<g id="L218"><text x="88.3" y="1493.2">TnNACHT-P45d</text></g>
<g id="L219"><text x="86.7" y="1499.85">TnNACHT-P46a</text></g>
<g id="L220"><text x="88.3" y="1506.5">TnNACHT-P46b</text></g>
<g id="L221"><text x="85.7" y="1513.15">TnNACHT-P45e</text></g>
<g id="L222"><text x="87.7" y="1519.8">TnNACHT-P49</text></g>
<g id="L223"><text x="86.7" y="1526.45">TnNACHT-P47</text></g>
<g id="L224"><text x="83.3" y="1533.1">TnNACHT-P48</text></g>
<g id="L225"><text x="84" y="1539.75">TnNACHT-P51a</text></g>
<g id="L226"><text x="84" y="1546.4">TnNACHT-P51b</text></g>
<g id="L227"><text x="84" y="1553.05">TnNACHT-P45a</text></g>
<g id="L228"><text x="90.7" y="1559.7">TnNACHT-P52b</text></g>
<g id="L229"><text x="84" y="1566.35">TnNACHT-P41a</text></g>
<g id="L230"><text x="77.3" y="1573">TnNACHT-P37a</text></g>
<g id="L231"><text x="74" y="1579.65">TnNACHT-P37c</text></g>
<g id="L232"><text x="73.3" y="1586.3">TnNACHT-P37b</text></g>
<g id="L233"><text x="78.3" y="1592.95">TnNACHT-P37d</text></g>
<g id="L234"><text x="69" y="1599.6">FrNACHT-P35a</text></g>
<g id="L235"><text x="76.7" y="1606.25">FrNACHT-P35b</text></g>
<g id="L236"><text x="79" y="1612.9">FrNACHT-P35c</text></g>
<g id="L237"><text x="77.7" y="1619.55">FrNACHT-P36a</text></g>
<g id="L238"><text x="95" y="1626.2">FrNACHT-P36b</text></g>
<g id="L239"><text x="75" y="1632.85">FrNACHT-P36c</text></g>
<g id="L240"><text x="70.7" y="1639.5">FrNACHT-P27a</text></g>
<g id="L241"><text x="84" y="1646.15">FrNACHT-P22</text></g>
<g id="L242"><text x="62.3" y="1652.8">FrNACHT-P18a</text></g>
<g id="L243"><text x="71.7" y="1659.45">FrNACHT-P18b</text></g>
<g id="L244"><text x="69" y="1666.1">FrNACHT-P26</text></g>
<g id="L245"><text x="66" y="1672.75">FrNACHT-P25</text></g>
<g id="L246"><text x="65.7" y="1679.4">FrNACHT-P24</text></g>
<g id="L247"><text x="67.7" y="1686.05">FrNACHT-P17a</text></g>
<g id="L248"><text x="50.7" y="1692.7">FrNACHT-P20</text></g>
<g id="L249"><text x="66.7" y="1699.35">FrNACHT-P19</text></g>
<g id="L250"><text x="66.7" y="1706">FrNACHT-P17c</text></g>
<g id="L251"><text x="46.7" y="1712.65">FrNACHT-P29</text></g>
<g id="L252"><text x="46.7" y="1719.3">FrNACHT-P33a</text></g>
<g id="L253"><text x="47.3" y="1725.95">FrNACHT-P33b</text></g>
<g id="L254"><text x="46" y="1732.6">FrNACHT-P28</text></g>
<g id="L255"><text x="47.3" y="1739.25">FrNACHT-P30d</text></g>
<g id="L256"><text x="45" y="1745.9">FrNACHT-P30a</text></g>
<g id="L257"><text x="46.7" y="1752.55">FrNACHT-P30b</text></g>
<g id="L258"><text x="44" y="1759.2">FrNACHT-P30c</text></g>
<g id="L259"><text x="50.7" y="1765.85">FrNACHT-P32</text></g>
<g id="L260"><text x="50.7" y="1772.5">FrNACHT-P34a</text></g>
<g id="L261"><text x="52.3" y="1779.15">FrNACHT-P34b</text></g>
<g id="L262"><text x="47.3" y="1785.8">FrNACHT-P31b</text></g>
<g id="L263"><text x="47.3" y="1792.45">FrNACHT-P31a</text></g>
<g id="L264"><text x="42.3" y="1799.1">FrNACHT-P31c</text></g>
<g id="L265"><text x="45" y="1805.75">FrNACHT-P27b</text></g>
<g id="L266"><text x="48" y="1812.4">FrNACHT-P17b</text></g>
<g id="L267"><text x="44" y="1819.05">FrNACHT-P27c</text></g>
<g id="L268"><text x="44" y="1825.7">FrNACHT-P31d</text></g>
</g>
<g id="groups">
<path class="br" d="M362,174H376V394H362M362,588.8H376V768H362M362,776H376V1284H362M362,1291.7H376V1413.6H362M362,1418H376V1593H362M362,1598.8H376V1828H362"/>
<g id="g-nod1"><text class="big" x="397" y="60">Nod1</text></g>
<g id="g-nod2"><text class="big" x="397" y="95">Nod2</text></g>
<g id="g-ciita"><text class="big" x="397" y="131">CIITA</text></g>
<g id="g-nod9"><text class="big" x="397" y="166.7">Nod9</text></g>
<g id="g-nalp"><text class="big" x="397" y="301.7">mammalian Nalp</text></g>
<g id="g-apaf1"><text class="big" x="397" y="436.5">Apaf1</text></g>
<g id="g-p1"><text class="big" x="397" y="467.8">NACHT-P1</text></g>
<g id="g-ipaf"><text class="big" x="397" y="499.5">Ipaf</text></g>
<g id="g-nod3"><text class="big" x="397" y="579.4">Nod3</text></g>
<g id="g-frtn1"><text class="big" x="397" y="678">Fr/ Tn expansion</text></g>
<g id="g-dr"><text class="big" x="397" y="1038">Dr expansion</text></g>
<g id="g-frtn2"><text class="big" x="397" y="1364.5">Fr/ Tn expansion</text></g>
<g id="g-tn"><text class="big" x="397" y="1507">Tn expansion</text></g>
<g id="g-fr"><text class="big" x="397" y="1722.5">Fr expansion</text></g>
</g>
<g id="legend">
<g id="lg-hs"><rect class="H lg" x="27" y="1870" width="34" height="35"/><text class="big" x="73" y="1897">Hs</text></g>
<g id="lg-mm"><rect class="M lg" x="136" y="1870" width="34" height="35"/><text class="big" x="183" y="1897">Mm</text></g>
<g id="lg-dr"><rect class="D lg" x="256.5" y="1870" width="34" height="35"/><text class="big" x="302" y="1897">Dr</text></g>
<g id="lg-fr"><rect class="F lg" x="364" y="1870" width="34" height="35"/><text class="big" x="409" y="1897">Fr</text></g>
<g id="lg-tn"><rect class="T lg" x="467" y="1870" width="34" height="35"/><text class="big" x="512" y="1897">Tn</text></g>
</g>
</svg>
